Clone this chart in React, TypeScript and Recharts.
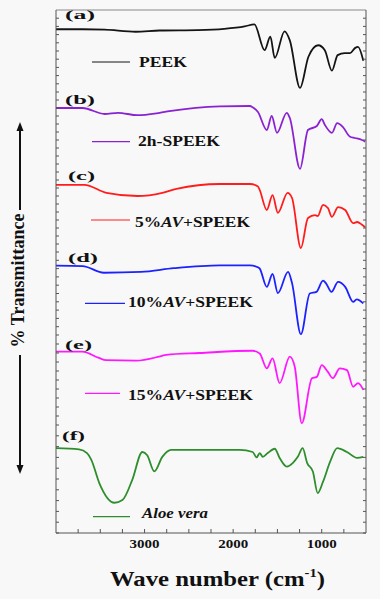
import React from 'react';
import { LineChart, Line, XAxis, YAxis, ReferenceLine } from 'recharts';

// wavenumber (cm-1) and relative transmittance inside each panel (0 = panel bottom, 100 = panel top)
const peekWn = [4000, 3700, 3450, 3100, 2830, 2400, 2100, 1870, 1760, 1645, 1580, 1530, 1420, 1360, 1245, 1150, 1040, 965, 885, 820, 740, 680, 625, 590, 530];
const peekT = [76.5, 76.5, 76, 73.5, 75, 75.5, 77, 80, 82.5, 51, 67.5, 41.5, 74, 63, 5, 43, 57, 51, 26, 45, 47.5, 47.5, 53.5, 55, 38];

const speekWn = [4000, 3700, 3450, 3300, 3080, 2830, 2720, 2150, 1810, 1780, 1720, 1620, 1565, 1505, 1395, 1360, 1245, 1155, 1055, 1000, 965, 885, 825, 760, 680, 625, 545, 510];
const speekT = [80, 80, 72.5, 74, 71, 74, 76, 82, 82.5, 81, 75, 52.5, 70, 49, 74, 67.5, 4, 52.5, 57.5, 66, 59, 49, 61, 56, 44, 42.5, 40, 38];

const av5Wn = [4000, 3680, 3430, 3080, 2800, 2640, 2150, 1810, 1720, 1700, 1620, 1555, 1495, 1385, 1335, 1235, 1155, 1075, 1045, 985, 930, 885, 815, 735, 645, 600, 545, 510];
const av5T = [84, 84, 74, 70, 74, 79, 85, 85, 82, 77.5, 52.5, 71, 49, 74, 67.5, 5, 42.5, 46, 45, 59, 55, 44, 56, 52.5, 36, 37.5, 34, 31];

const av10Wn = [4000, 3700, 3460, 3040, 2670, 2150, 1810, 1730, 1700, 1620, 1555, 1495, 1380, 1335, 1235, 1135, 1060, 985, 950, 890, 815, 735, 645, 605, 530];
const av10T = [83.5, 83, 75, 76, 80.5, 84, 84, 82, 80, 58, 73.5, 50.5, 76, 62.5, 1, 50, 52, 65.5, 62, 52, 64, 58, 40, 43, 38];

const av15Wn = [4000, 3705, 3515, 3435, 3095, 2835, 2755, 2380, 1780, 1700, 1620, 1555, 1475, 1360, 1305, 1225, 1110, 1055, 1000, 930, 875, 795, 715, 645, 590, 530];
const av15T = [81.5, 81.5, 74.5, 72, 71.5, 76, 78, 80, 82.5, 79.5, 63, 74, 46.5, 76, 65, 2, 52, 53.5, 66.5, 59, 52, 63, 61, 42.5, 46.5, 39];

const aloeWn = [4000, 3740, 3650, 3600, 3510, 3340, 3250, 3140, 3025, 2970, 2890, 2800, 2700, 1925, 1780, 1735, 1700, 1665, 1610, 1530, 1475, 1395, 1325, 1270, 1215, 1165, 1100, 1045, 985, 905, 825, 715, 600, 530];
const aloeT = [78.5, 77.5, 74, 67.5, 46, 28, 30.5, 49, 75, 72, 57, 70.5, 77, 77, 75, 70, 74, 70.5, 74, 78, 69.5, 61.5, 65, 70.5, 78.5, 65, 57, 37, 47.5, 66, 78.5, 75, 69.5, 70.5];

const panelTags = ['(a)', '(b)', '(c)', '(d)', '(e)', '(f)'];
const seriesNames = ['PEEK', '2h-SPEEK', '5%AV+SPEEK', '10%AV+SPEEK', '15%AV+SPEEK', 'Aloe vera'];
const seriesColors = ['#141414', '#8a22d2', '#ff1c1c', '#1c22ff', '#ff18ff', '#2e8e2e'];

const xTicks = [750, 1000, 1250, 1500, 1750, 2000, 2250, 2500, 2750, 3000, 3250, 3500, 3750];

const FONT = "'Liberation Serif', 'Times New Roman', serif";

// layout (pixels)
const PLOT = { left: 57, right: 365, top: 10, bottom: 533 };
const bands: [number, number][] = [[10, 92], [92, 172], [172, 252], [252, 335], [335, 425], [425, 533]];
const legendLayout = [
  { x1: 92, x2: 130, y: 62, tx: 139, by: 66.5, tw: 48 },
  { x1: 92, x2: 130, y: 141.7, tx: 138, by: 146, tw: 82 },
  { x1: 91, x2: 130, y: 220, tx: 135, by: 226.5, tw: 115 },
  { x1: 85, x2: 125, y: 303.3, tx: 128, by: 306.5, tw: 125 },
  { x1: 85, x2: 120, y: 393.3, tx: 128, by: 400, tw: 125 },
  { x1: 93, x2: 130, y: 516.7, tx: 142, by: 518, tw: 66 },
];
const tagLayout = [
  { x: 65, by: 18.5, w: 30 },
  { x: 65, by: 104, w: 30 },
  { x: 68, by: 180, w: 27 },
  { x: 68, by: 262, w: 30 },
  { x: 65, by: 349, w: 27 },
  { x: 62, by: 440, w: 23 },
];

const plotH = PLOT.bottom - PLOT.top;

const bandDomain = ([top, bot]: [number, number]): [number, number] => {
  const fTop = (top - PLOT.top) / plotH;
  const fBot = (bot - PLOT.top) / plotH;
  const r = 100 / (fBot - fTop);
  const hi = fBot * r;
  return [hi - r, hi];
};

// frame axis runs in pixel units measured up from the plot bottom; ten minor ticks per panel
const frameTicks = bands.flatMap(([t, b]) =>
  Array.from({ length: 10 }, (_, k) => PLOT.bottom - (b - (k * (b - t)) / 10)));

const spectra = [
  [peekWn, peekT],
  [speekWn, speekT],
  [av5Wn, av5T],
  [av10Wn, av10T],
  [av15Wn, av15T],
  [aloeWn, aloeT],
].map(([wn, t], i) => ({
  id: 'p' + i,
  color: seriesColors[i],
  data: wn.map((w, k) => ({ wn: w, t: t[k] })),
}));

const XTick = (props: any) => {
  const { x, y, payload } = props;
  if (payload.value % 1000 !== 0) return null;
  return (
    <text x={x} y={y + 13} textAnchor="middle" fontFamily={FONT} fontWeight="bold" fontSize={13}
      fill="#111" textLength={30} lengthAdjust="spacingAndGlyphs">
      {payload.value}
    </text>
  );
};

const LegendLabel = ({ name }: { name: string }) => {
  if (name === 'Aloe vera') return <tspan fontStyle="italic">{name}</tspan>;
  const parts = name.split('AV');
  if (parts.length === 2) {
    return (
      <>
        <tspan>{parts[0]}</tspan>
        <tspan fontStyle="italic">AV</tspan>
        <tspan>{parts[1]}</tspan>
      </>
    );
  }
  return <tspan>{name}</tspan>;
};

const frameLine = { stroke: '#555', strokeWidth: 1 };

export default function App() {
  return (
    <div style={{ position: 'absolute', left: 0, top: 0, width: 380, height: 599, background: '#f8f8f8' }}>
      <LineChart width={380} height={599}
        margin={{ top: PLOT.top, right: 380 - PLOT.right - 1, bottom: 599 - PLOT.bottom - 30, left: PLOT.left - 1 }}>
        <XAxis dataKey="wn" type="number" domain={[500, 4000]} reversed allowDataOverflow
          ticks={xTicks} interval={0} tickSize={-4} tickMargin={6} height={30}
          axisLine={frameLine} tickLine={frameLine} tick={<XTick />} />
        {spectra.map((s, i) => (
          <YAxis key={s.id} yAxisId={s.id} hide type="number" domain={bandDomain(bands[i])} allowDataOverflow />
        ))}
        <YAxis yAxisId="frameL" orientation="left" mirror width={1} type="number" domain={[0, plotH]}
          allowDataOverflow ticks={frameTicks} interval={0} tickSize={3} tickFormatter={() => ''}
          axisLine={frameLine} tickLine={frameLine} />
        <YAxis yAxisId="frameR" orientation="right" mirror width={1} type="number" domain={[0, plotH]}
          allowDataOverflow ticks={frameTicks} interval={0} tickSize={3} tickFormatter={() => ''}
          axisLine={frameLine} tickLine={frameLine} />
        <ReferenceLine yAxisId="p0" y={100} stroke="#888" strokeWidth={1} ifOverflow="visible" />
        {spectra.map((s) => (
          <Line key={s.id} yAxisId={s.id} data={s.data} dataKey="t" type="monotone"
            stroke={s.color} strokeWidth={1.8} dot={false} isAnimationActive={false} />
        ))}
      </LineChart>

      <svg width={380} height={599} style={{ position: 'absolute', left: 0, top: 0, pointerEvents: 'none' }}>
        {panelTags.map((tag, i) => (
          <text key={tag} x={tagLayout[i].x} y={tagLayout[i].by} fontFamily={FONT} fontWeight="bold"
            fontSize={12} fill="#111" textLength={tagLayout[i].w} lengthAdjust="spacingAndGlyphs">
            {tag}
          </text>
        ))}
        {seriesNames.map((name, i) => {
          const l = legendLayout[i];
          return (
            <g key={name}>
              <line x1={l.x1} x2={l.x2} y1={l.y} y2={l.y} stroke={seriesColors[i]} strokeWidth={1.2} />
              <text x={l.tx} y={l.by} fontFamily={FONT} fontWeight="bold" fontSize={15} fill="#111"
                textLength={l.tw} lengthAdjust="spacingAndGlyphs">
                <LegendLabel name={name} />
              </text>
            </g>
          );
        })}

        <text transform="translate(24,280.5) rotate(-90)" textAnchor="middle" fontFamily={FONT}
          fontWeight="bold" fontSize={18} fill="#111">
          % Transmittance
        </text>
        <line x1={20} x2={20} y1={210} y2={128} stroke="#111" strokeWidth={2} />
        <polygon points="20,122 16.5,131 23.5,131" fill="#111" />
        <line x1={20} x2={20} y1={355} y2={467} stroke="#111" strokeWidth={2} />
        <polygon points="20,474 16.5,465 23.5,465" fill="#111" />

        <text x={217.5} y={586} textAnchor="middle" fontFamily={FONT} fontWeight="bold" fontSize={22}
          fill="#111" textLength={215} lengthAdjust="spacingAndGlyphs">
          <tspan>Wave number (cm</tspan>
          <tspan fontSize={13} dy={-9}>-1</tspan>
          <tspan dy={9}>)</tspan>
        </text>
      </svg>
    </div>
  );
}
